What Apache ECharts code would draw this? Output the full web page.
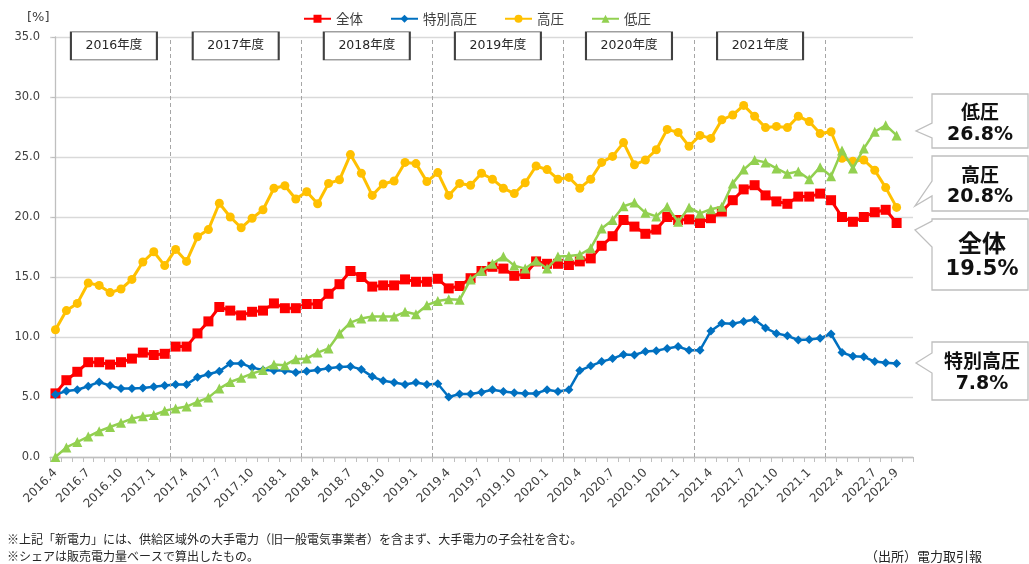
<!DOCTYPE html>
<html><head><meta charset="utf-8">
<script src="https://cdn.jsdelivr.net/npm/echarts@6/dist/echarts.min.js"></script>
<style>html,body{margin:0;padding:0;background:#fff}#c{width:1029px;height:564px}</style>
</head><body><div id="c"></div>
<script>
const categories = [
'2016.4','2016.5','2016.6','2016.7','2016.8','2016.9','2016.10','2016.11','2016.12',
'2017.1','2017.2','2017.3','2017.4','2017.5','2017.6','2017.7','2017.8','2017.9','2017.10','2017.11','2017.12',
'2018.1','2018.2','2018.3','2018.4','2018.5','2018.6','2018.7','2018.8','2018.9','2018.10','2018.11','2018.12',
'2019.1','2019.2','2019.3','2019.4','2019.5','2019.6','2019.7','2019.8','2019.9','2019.10','2019.11','2019.12',
'2020.1','2020.2','2020.3','2020.4','2020.5','2020.6','2020.7','2020.8','2020.9','2020.10','2020.11','2020.12',
'2021.1','2021.2','2021.3','2021.4','2021.5','2021.6','2021.7','2021.8','2021.9','2021.10','2021.11','2021.12',
'2022.1','2022.2','2022.3','2022.4','2022.5','2022.6','2022.7','2022.8','2022.9',''];
const tickLabels = ['2016.4','2016.7','2016.10','2017.1','2017.4','2017.7','2017.10','2018.1','2018.4','2018.7','2018.10',
'2019.1','2019.4','2019.7','2019.10','2020.1','2020.4','2020.7','2020.10','2021.1','2021.4','2021.7','2021.10',
'2021.1','2022.4','2022.7','2022.9'];
const tickCategories = ['2016.4','2016.7','2016.10','2017.1','2017.4','2017.7','2017.10','2018.1','2018.4','2018.7','2018.10',
'2019.1','2019.4','2019.7','2019.10','2020.1','2020.4','2020.7','2020.10','2021.1','2021.4','2021.7','2021.10',
'2022.1','2022.4','2022.7','2022.9'];
const total = [5.3,6.4,7.1,7.9,7.9,7.7,7.9,8.2,8.7,8.5,8.6,9.2,9.2,10.3,11.3,12.5,12.2,11.8,12.1,12.2,
12.8,12.4,12.4,12.75,12.75,13.6,14.4,15.5,15.0,14.2,14.3,14.3,14.8,14.6,14.6,14.85,14.05,14.25,14.9,15.5,
15.85,15.7,15.1,15.25,16.3,16.1,16.1,16.0,16.3,16.55,17.6,18.4,19.75,19.2,18.6,18.95,20.0,19.75,19.8,19.5,
19.9,20.45,21.4,22.3,22.65,21.8,21.3,21.1,21.7,21.7,21.95,21.4,20.0,19.6,20.0,20.4,20.6,19.5];
const extraHigh = [5.2,5.5,5.6,5.9,6.25,5.95,5.7,5.7,5.75,5.85,5.95,6.05,6.05,6.65,6.9,7.15,7.8,7.8,7.45,7.25,
7.2,7.2,7.05,7.15,7.25,7.4,7.5,7.55,7.3,6.7,6.35,6.2,6.05,6.2,6.05,6.1,5.0,5.25,5.25,5.4,
5.6,5.45,5.35,5.3,5.3,5.6,5.45,5.6,7.2,7.6,7.95,8.2,8.55,8.5,8.8,8.85,9.05,9.2,8.9,8.9,
10.5,11.15,11.1,11.3,11.45,10.75,10.3,10.1,9.75,9.8,9.9,10.25,8.7,8.4,8.35,7.95,7.85,7.8];
const high = [10.6,12.2,12.8,14.5,14.3,13.7,14.0,14.8,16.25,17.1,15.95,17.3,16.3,18.35,18.95,21.15,20.0,19.1,19.9,20.6,
22.4,22.6,21.5,22.1,21.1,22.8,23.1,25.2,23.65,21.8,22.75,23.0,24.55,24.45,22.95,23.7,21.8,22.8,22.65,23.65,
23.15,22.4,21.95,22.85,24.25,23.95,23.15,23.3,22.4,23.15,24.55,25.05,26.2,24.35,24.75,25.6,27.3,27.05,25.9,26.8,
26.55,28.1,28.5,29.3,28.4,27.45,27.55,27.45,28.4,27.95,26.95,27.1,24.9,24.65,24.75,23.9,22.45,20.8];
const low = [0.0,0.8,1.25,1.7,2.15,2.5,2.85,3.2,3.4,3.5,3.85,4.05,4.2,4.6,4.95,5.7,6.25,6.6,6.95,7.25,
7.7,7.65,8.15,8.2,8.7,9.05,10.3,11.2,11.55,11.7,11.7,11.7,12.1,11.9,12.65,13.0,13.15,13.1,14.8,15.5,
16.1,16.7,15.95,15.7,16.35,15.7,16.7,16.75,16.85,17.4,19.05,19.75,20.9,21.2,20.35,20.05,20.85,19.6,20.8,20.3,
20.65,20.85,22.8,23.95,24.75,24.55,24.05,23.6,23.8,23.15,24.15,23.4,25.55,24.05,25.7,27.1,27.65,26.8];
const seriesNames = ['全体','特別高圧','高圧','低圧'];
const fiscalYears = ['2016年度','2017年度','2018年度','2019年度','2020年度','2021年度'];
const fyBoundaries = [10.5,22.5,34.5,46.5,58.5,70.5];

const JP = '"Noto Sans CJK JP"';
const NUM = '"DejaVu Sans", "Noto Sans CJK JP"';
const chart = echarts.init(document.getElementById('c'), null, {renderer:'canvas'});

const fyCenters = fiscalYears.map((_, i) => i === 0 ? (fyBoundaries[0] + 0.2) / 2 : fyBoundaries[i - 1] + 6);
const last = a => a[a.length - 1].toFixed(1) + '%';

function callout(box, tip, base, lines) {
  const [x0, y0, x1, y1] = box;
  const els = [{
    type: 'polygon', z: 10,
    shape: { points: [[x0, y0], [x1, y0], [x1, y1], [x0, y1], [x0, base[1]], tip, [x0, base[0]]] },
    style: { fill: '#fff', stroke: '#bfbfbf', lineWidth: 1.3 }
  }];
  lines.forEach(l => els.push({
    type: 'text', z: 11, x: l.x, y: l.y,
    style: { text: l.t, font: l.f, fill: '#111', align: 'center', verticalAlign: 'middle' }
  }));
  return els;
}

const graphics = [
  { type: 'text', x: 27, y: 18, style: { text: '[%]', font: '13px "DejaVu Sans"', fill: '#404040', verticalAlign: 'middle' } },
  ...callout([932, 94, 1028, 148], [916, 131], [123, 138], [
    { t: seriesNames[3], x: 980, y: 112, f: 'bold 19px ' + JP },
    { t: last(low), x: 980, y: 135, f: 'bold 19px ' + NUM }]),
  ...callout([932, 156, 1028, 211], [915, 206], [181, 196], [
    { t: seriesNames[2], x: 980, y: 175, f: 'bold 19px ' + JP },
    { t: last(high), x: 980, y: 197, f: 'bold 19px ' + NUM }]),
  ...callout([932, 219, 1028, 290], [915, 230], [221, 247], [
    { t: seriesNames[0], x: 982, y: 243, f: 'bold 24px ' + JP },
    { t: last(total), x: 982, y: 270, f: 'bold 21px ' + NUM }]),
  ...callout([932, 342, 1028, 400], [916, 363], [353, 373], [
    { t: seriesNames[1], x: 982, y: 361, f: 'bold 19px ' + JP },
    { t: last(extraHigh), x: 982, y: 384, f: 'bold 19px ' + NUM }]),
  { type: 'text', x: 7, y: 539, style: { text: '※上記「新電力」には、供給区域外の大手電力（旧一般電気事業者）を含まず、大手電力の子会社を含む。', font: '12px ' + JP, fill: '#262626', verticalAlign: 'middle' } },
  { type: 'text', x: 7, y: 556, style: { text: '※シェアは販売電力量ベースで算出したもの。', font: '12px ' + JP, fill: '#262626', verticalAlign: 'middle' } },
  { type: 'text', x: 865, y: 556, style: { text: '（出所）電力取引報', font: '13px ' + JP, fill: '#262626', verticalAlign: 'middle' } }
];

function lineSeries(name, data, color, symbol, size, width, z) {
  return {
    name, type: 'line', data, symbol, symbolSize: size, showAllSymbol: true,
    itemStyle: { color }, lineStyle: { color, width }, z, animation: false,
    emphasis: { disabled: true }
  };
}

chart.setOption({
  animation: false,
  grid: { left: 50, right: 116, top: 37, bottom: 107, containLabel: false, outerBoundsMode: 'none' },
  legend: {
    data: seriesNames, top: 7, left: 298, itemGap: 27, itemWidth: 27, itemHeight: 10,
    textStyle: { fontFamily: JP, fontSize: 13.5, color: '#404040' }
  },
  xAxis: [{
    type: 'category', data: categories, boundaryGap: true,
    axisLine: { lineStyle: { color: '#bfbfbf', width: 1.3 } },
    axisTick: { show: true, interval: 0, length: 5, lineStyle: { color: '#bfbfbf' } },
    axisLabel: {
      interval: 0, rotate: 45, margin: 14, fontFamily: NUM, fontSize: 12, color: '#404040',
      formatter: (v) => { const k = tickCategories.indexOf(v); return k < 0 ? '' : tickLabels[k]; }
    },
    splitLine: { show: false }
  }, {
    type: 'value', min: -0.5, max: 78.5, show: false
  }],
  yAxis: {
    type: 'value', min: 0, max: 35, interval: 5,
    axisLine: { show: true, lineStyle: { color: '#bfbfbf', width: 1.3 } },
    axisTick: { show: true, length: 4, lineStyle: { color: '#bfbfbf' } },
    axisLabel: { formatter: v => v.toFixed(1), fontFamily: NUM, fontSize: 11.5, color: '#404040', margin: 10 },
    splitLine: { lineStyle: { color: '#d9d9d9', width: 1.3 } }
  },
  series: [
    {
      name: 'fy', type: 'line', xAxisIndex: 1, data: [], z: 1, silent: true,
      markLine: {
        silent: true, symbol: ['none', 'none'], label: { show: false }, animation: false,
        lineStyle: { type: [4, 3], color: '#a6a6a6', width: 1 },
        data: fyBoundaries.map(b => ({ xAxis: b }))
      },
      markPoint: {
        silent: true, symbol: 'rect', symbolSize: [86, 28], animation: false,
        itemStyle: { color: '#fff', borderColor: '#404040', borderWidth: 1.2 },
        label: { show: true, position: 'inside', formatter: p => p.name, color: '#262626', fontSize: 12.5, fontFamily: NUM },
        data: fiscalYears.map((t, i) => ({ name: t, coord: [fyCenters[i], 34.26] }))
      }
    },
    lineSeries(seriesNames[0], total, '#FF0000', 'rect', 10, 3, 3),
    lineSeries(seriesNames[1], extraHigh, '#0070C0', 'diamond', 9, 2.5, 4),
    lineSeries(seriesNames[2], high, '#FFC000', 'circle', 9, 3, 5),
    lineSeries(seriesNames[3], low, '#92D050', 'triangle', 10, 2.5, 6)
  ],
  graphic: graphics
});
</script></body></html>
